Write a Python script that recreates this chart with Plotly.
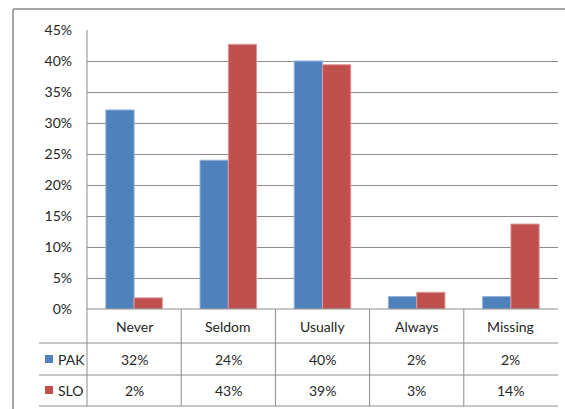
import plotly.graph_objects as go

categories = ["Never", "Seldom", "Usually", "Always", "Missing"]
series_names = ["PAK", "SLO"]
pak_values = [32.1, 24.0, 40.0, 2.0, 2.0]
slo_values = [1.8, 42.7, 39.4, 2.7, 13.7]
pak_labels = ["32%", "24%", "40%", "2%", "2%"]
slo_labels = ["2%", "43%", "39%", "3%", "14%"]
y_ticks = [0, 5, 10, 15, 20, 25, 30, 35, 40, 45]

W, H = 565, 409
def px(x): return x / W
def py(y): return 1 - y / H

BLUE = "#4F81BD"
RED = "#C0504D"
GRID = "#8C8C8C"
TXT = "#262626"
FONT = "Lato"

fig = go.Figure()
fig.add_bar(x=categories, y=[v / 100 for v in pak_values], name=series_names[0],
            marker=dict(color=BLUE, line=dict(color="#8EB0DA", width=1)))
fig.add_bar(x=categories, y=[v / 100 for v in slo_values], name=series_names[1],
            marker=dict(color=RED, line=dict(color="#E09A98", width=1)))

shapes = []
# outer frame (left & top)
shapes.append(dict(type="line", xref="paper", yref="paper", x0=px(13), x1=1.0, y0=py(9), y1=py(9),
                   line=dict(color="#8A8A8A", width=1.5)))
shapes.append(dict(type="line", xref="paper", yref="paper", x0=px(13), x1=px(13), y0=py(9), y1=0,
                   line=dict(color="#8A8A8A", width=1.5)))
# y axis line extending through the table
shapes.append(dict(type="line", xref="paper", yref="paper", x0=px(87), x1=px(87), y0=py(30), y1=py(406),
                   line=dict(color=GRID, width=1)))
# table horizontal lines
for yy in [343, 375, 406]:
    shapes.append(dict(type="line", xref="paper", yref="paper", x0=px(39), x1=px(558), y0=py(yy), y1=py(yy),
                       line=dict(color=GRID, width=1)))
shapes.append(dict(type="line", xref="paper", yref="paper", x0=px(87), x1=px(558), y0=py(309), y1=py(309),
                   line=dict(color=GRID, width=1)))
# table vertical lines at category boundaries
for i in range(1, len(categories)):
    shapes.append(dict(type="line", xref="x", yref="paper", x0=i - 0.5, x1=i - 0.5, y0=py(309), y1=py(406),
                       line=dict(color=GRID, width=1)))
# legend keys
for color, yc in [(BLUE, 359), (RED, 390)]:
    shapes.append(dict(type="rect", xref="paper", yref="paper", x0=px(45), x1=px(53), y0=py(yc + 4), y1=py(yc - 4),
                       fillcolor=color, line=dict(width=0)))

annotations = []
for i, c in enumerate(categories):
    annotations.append(dict(x=c, xref="x", y=py(326), yref="paper", text=c, showarrow=False,
                            font=dict(family=FONT, size=14, color=TXT), xanchor="center", yanchor="middle"))
    annotations.append(dict(x=c, xref="x", y=py(359), yref="paper", text=pak_labels[i], showarrow=False,
                            font=dict(family=FONT, size=14, color=TXT), xanchor="center", yanchor="middle"))
    annotations.append(dict(x=c, xref="x", y=py(390), yref="paper", text=slo_labels[i], showarrow=False,
                            font=dict(family=FONT, size=14, color=TXT), xanchor="center", yanchor="middle"))
for name, yc in zip(series_names, [359, 390]):
    annotations.append(dict(x=px(56), xref="paper", y=py(yc), yref="paper", text=name, showarrow=False,
                            font=dict(family=FONT, size=14, color=TXT), xanchor="left", yanchor="middle"))

fig.update_layout(
    width=W, height=H,
    margin=dict(l=0, r=0, t=0, b=0, autoexpand=False),
    paper_bgcolor="white", plot_bgcolor="white",
    barmode="group", bargap=0.4, bargroupgap=0,
    showlegend=False,
    font=dict(family=FONT, size=14, color=TXT),
    xaxis=dict(domain=[px(87), px(558)], range=[-0.5, 4.5], showticklabels=False, showgrid=False,
               zeroline=False, showline=False, ticks="", automargin=False),
    yaxis=dict(domain=[py(309), py(30)], range=[0, 0.45], tickvals=[t / 100 for t in y_ticks],
               ticktext=[f"{t}%" for t in y_ticks], showgrid=True, gridcolor=GRID, gridwidth=1,
               zeroline=False, showline=False, ticks="", ticklabelstandoff=14, automargin=False,
               tickfont=dict(family=FONT, size=14, color=TXT)),
    shapes=shapes, annotations=annotations,
)
fig.write_html("out.html")
